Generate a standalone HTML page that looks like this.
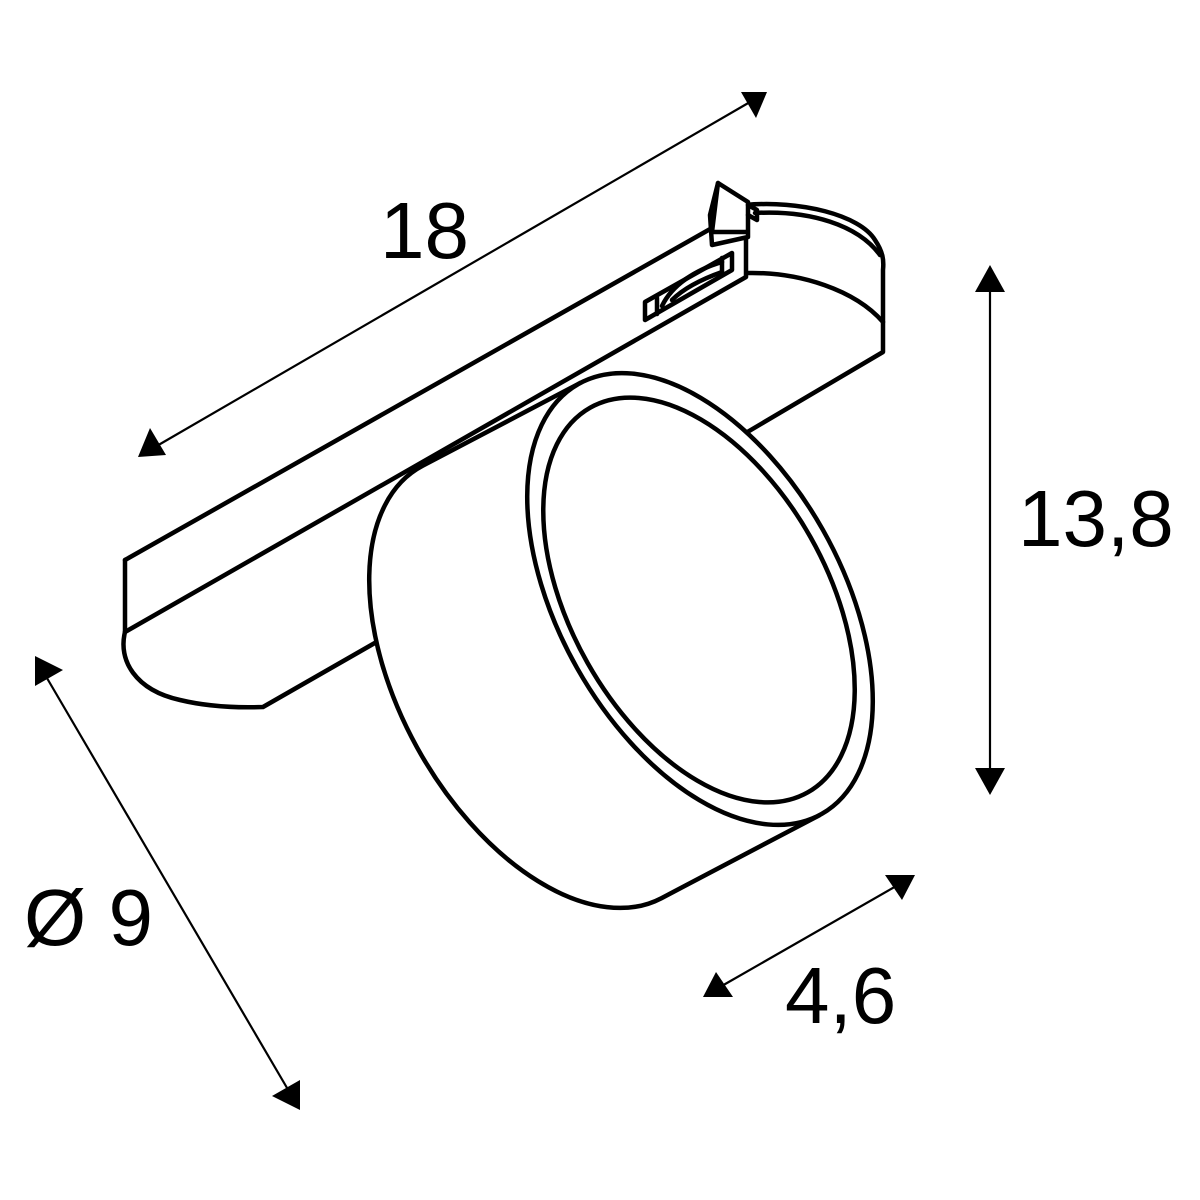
<!DOCTYPE html>
<html><head><meta charset="utf-8"><style>
html,body{margin:0;padding:0;background:#fff;}
svg{display:block;}
text{font-family:"Liberation Sans",Arial,sans-serif;font-size:80px;fill:#000;}
</style></head><body>
<svg width="1200" height="1200" viewBox="0 0 1200 1200" xmlns="http://www.w3.org/2000/svg">
<rect width="1200" height="1200" fill="#fff"/>
<g fill="none" stroke="#000" stroke-width="4.5" stroke-linejoin="round" stroke-linecap="round">
  <!-- right end of track -->
  <path d="M745 205 C800 200 860 215 875 240 C883 252 884 260 883 270 L883 352 L700 460" fill="#fff"/>
  <path d="M748 273 C800 272 855 290 883 322"/>
  <path d="M755 213 C810 210 858 225 880 255"/>
  <line x1="746" y1="237" x2="746" y2="276"/>
  <!-- track top/front -->
  <line x1="125" y1="560" x2="712" y2="228"/>
  <line x1="125" y1="632" x2="746" y2="277"/>
  <line x1="125" y1="560" x2="125" y2="632"/>
  <!-- underside left -->
  <path d="M125 632 C118 660 135 690 180 700 C205 706 235 708 263 707 L380 640"/>
  <!-- adapter -->
  <path d="M718 183 L748 202 L748 237 L712 245 L710 215 Z" fill="#fff"/>
  <path d="M718 183 L712 232 L746 232"/>
  <path d="M748 205 L757 210 L757 220 L748 215"/>
  <!-- slot -->
  <path d="M645 302 L732 253 L732 270 L645 320 Z"/>
  <path d="M657 298 L657 314"/>
  <path d="M722 258 L722 275"/>
  <path d="M662 306 C672 285 695 270 722 262"/>
  <path d="M672 300 C685 287 705 278 722 272"/>
  <!-- cylinder body -->
  <path d="M819.4 815.2 L661.4 898.2 A247 141 60.5 0 1 422.6 465.8 L580.6 382.8" fill="#fff"/>
  <!-- front ring -->
  <ellipse cx="700" cy="599" rx="247" ry="141" transform="rotate(60.5 700 599)" fill="#fff"/>
  <ellipse cx="699" cy="600" rx="221" ry="128" transform="rotate(60.5 699 600)"/>
</g>
<!-- dimension lines -->
<g stroke="#000" stroke-width="2.2" fill="none">
  <line x1="155" y1="447" x2="750" y2="102"/>
  <line x1="990" y1="292" x2="990" y2="768"/>
  <line x1="44" y1="673" x2="290" y2="1093"/>
  <line x1="720" y1="987" x2="898" y2="885"/>
</g>
<g fill="#000">
  <!-- 18 arrows -->
  <polygon points="138,457 150,428 166,455"/>
  <polygon points="767,92 741,92 756,118"/>
  <!-- 13,8 -->
  <polygon points="990,265 975,292 1005,292"/>
  <polygon points="990,795 975,768 1005,768"/>
  <!-- Ø 9 -->
  <polygon points="35,656 63,670 35,686"/>
  <polygon points="300,1110 272,1096 300,1080"/>
  <!-- 4,6 -->
  <polygon points="703,997 733,997 716,972"/>
  <polygon points="915,875 885,875 902,900"/>
</g>
<text x="380" y="258">18</text>
<text x="1018" y="546">13,8</text>
<text x="24" y="945">Ø 9</text>
<text x="785" y="1023">4,6</text>
</svg>
</body></html>
